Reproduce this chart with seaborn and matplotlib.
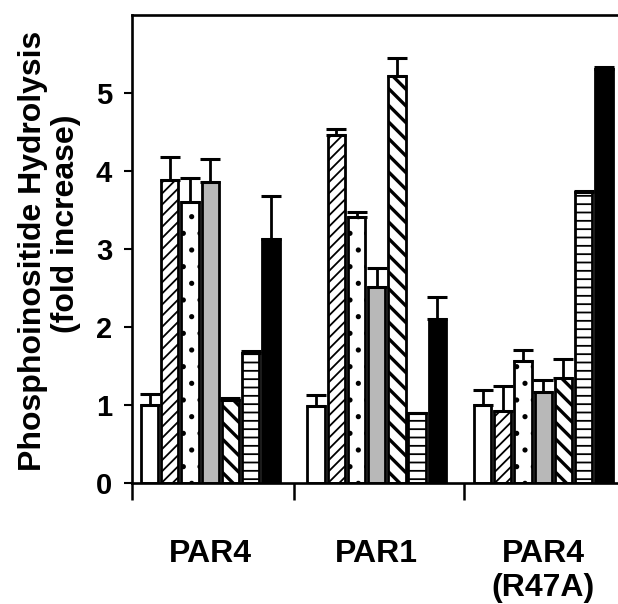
import numpy as np
import pandas as pd
import seaborn as sns
import matplotlib.pyplot as plt

# values (fold increase), 7 treatments per receptor
receptors = ["PAR4", "PAR1", "PAR4\n(R47A)"]
treatments = ["T1", "T2", "T3", "T4", "T5", "T6", "T7"]

par4 = [1.00, 3.88, 3.60, 3.86, 1.07, 1.67, 3.13]
par1 = [0.99, 4.46, 3.41, 2.52, 5.22, 0.90, 2.11]
r47a = [1.00, 0.92, 1.57, 1.17, 1.35, 3.73, 5.31]

par4_err = [0.14, 0.30, 0.31, 0.29, 0.02, 0.03, 0.55]
par1_err = [0.14, 0.08, 0.06, 0.24, 0.23, 0.00, 0.28]
r47a_err = [0.19, 0.32, 0.14, 0.15, 0.24, 0.02, 0.02]

fills = ["white", "white", "white", "#b8b8b8", "white", "white", "black"]
hatches = [None, "///", ".", None, "\\\\", "--", None]

df = pd.DataFrame({
    "receptor": np.repeat(receptors, len(treatments)),
    "treatment": treatments * len(receptors),
    "fold": par4 + par1 + r47a,
    "err": par4_err + par1_err + r47a_err,
})

sns.set_style("ticks", {"axes.edgecolor": "black", "text.color": "black",
                        "xtick.color": "black", "ytick.color": "black",
                        "axes.labelcolor": "black"})
plt.rcParams["font.family"] = ["Liberation Sans", "DejaVu Sans"]
plt.rcParams["font.weight"] = "bold"
plt.rcParams["hatch.linewidth"] = 1.3

fig = plt.figure(figsize=(6.18, 6.04), dpi=100)
ax = fig.add_axes([0.213, 0.200, 0.787, 0.775])

sns.barplot(data=df, x="receptor", y="fold", hue="treatment",
            palette=fills, width=0.85, gap=0.14, edgecolor="black",
            linewidth=2, saturation=1, errorbar=None, legend=False, ax=ax)

bar_sets = list(ax.containers)
for i, cont in enumerate(bar_sets):
    sub = df[df["treatment"] == treatments[i]]
    xs = [p.get_x() + p.get_width() / 2 for p in cont.patches]
    for p in cont.patches:
        if hatches[i]:
            p.set_hatch(hatches[i])
            if hatches[i].startswith("\\") and hasattr(p, "set_hatch_linewidth"):
                p.set_hatch_linewidth(2.4)
    ax.errorbar(xs, sub["fold"].values,
                yerr=[np.zeros(len(sub)), sub["err"].values],
                fmt="none", ecolor="black", elinewidth=2, capsize=7.5,
                capthick=2.2, zorder=1)

ax.set_ylim(0, 6)
ax.set_yticks(range(6))
ax.set_xlim(-0.472, 2.449)
ax.set_xticks([0, 1, 2])
ax.set_xticklabels(receptors, fontsize=23, fontweight="bold")
ax.set_xticks([-0.472, 0.503, 1.525], minor=True)
ax.tick_params(axis="x", which="major", length=0, pad=40)
ax.tick_params(axis="x", which="minor", length=12, width=1.8, direction="out")
ax.tick_params(axis="y", length=6, width=1.5, pad=8, labelsize=21)
for lab in ax.get_yticklabels():
    lab.set_fontweight("bold")

ax.set_xlabel("")
ax.set_ylabel("")
for side in ["left", "bottom", "top"]:
    ax.spines[side].set_linewidth(1.9)
ax.spines["right"].set_visible(False)

fig.text(0.053, 0.584, "Phosphoinositide Hydrolysis", rotation=90,
         ha="center", va="center", fontsize=23, fontweight="bold")
fig.text(0.107, 0.629, "(fold increase)", rotation=90,
         ha="center", va="center", fontsize=23, fontweight="bold")

fig.savefig("out.png", dpi=100)
